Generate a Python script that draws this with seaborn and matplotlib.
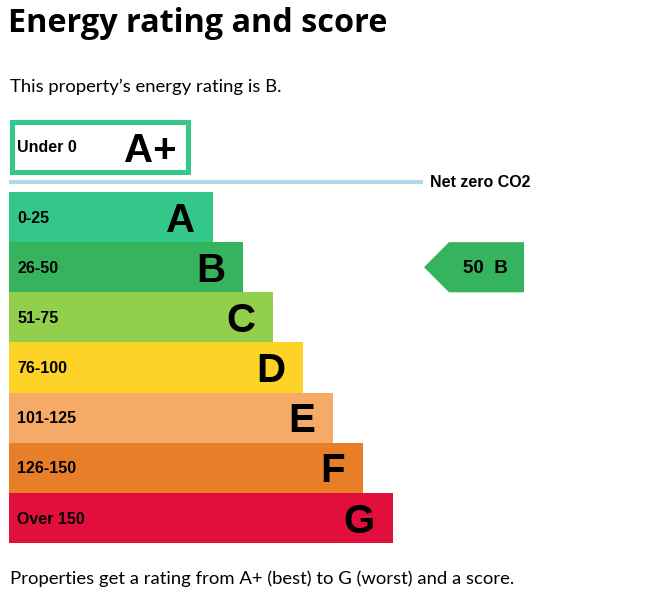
import matplotlib
matplotlib.use("Agg")
import matplotlib.pyplot as plt
from matplotlib.patches import Rectangle, Polygon
import seaborn as sns
import pandas as pd

# ---- data ----
bands = ["A", "B", "C", "D", "E", "F", "G"]
score_ranges = ["0-25", "26-50", "51-75", "76-100", "101-125", "126-150", "Over 150"]
bar_length = [204, 234, 264, 294, 324, 354, 384]
band_colors = ["#33c88a", "#35b35d", "#92cf4c", "#fcd326", "#f6aa68", "#e97e29", "#e20f3c"]
top_band = "A+"
top_range = "Under 0"
current_score = 50
current_band = "B"

title = "Energy rating and score"
subtitle = "This property\u2019s energy rating is B."
footer = "Properties get a rating from A+ (best) to G (worst) and a score."

LABEL_FONT = ["Liberation Sans", "DejaVu Sans"]
TEXT_FONT = ["Lato", "DejaVu Sans"]
TITLE_FONT = ["Open Sans", "DejaVu Sans"]
PX = 0.72  # points per pixel at dpi 100

df = pd.DataFrame({"band": bands, "length": bar_length, "range": score_ranges})

fig = plt.figure(figsize=(6.55, 6.05), dpi=100)

# overlay axes in pixel coordinates
ax = fig.add_axes([0, 0, 1, 1])
ax.set_xlim(0, 655)
ax.set_ylim(605, 0)
ax.axis("off")

ax.text(8, 32, title, fontsize=23.3, fontweight="bold", family=TITLE_FONT, va="baseline")
ax.text(10, 92, subtitle, fontsize=13.3, family=TEXT_FONT, va="baseline")
ax.text(10, 584, footer, fontsize=13.3, family=TEXT_FONT, va="baseline")

# A+ box
ax.add_patch(Rectangle((12, 121.5), 176, 50, facecolor="white",
                       edgecolor="#34c98b", lw=5 * PX))
ax.text(17, 152, top_range, fontsize=11.5, fontweight="bold", family=LABEL_FONT, va="baseline")
ax.text(177, 161.5, top_band, fontsize=29, fontweight="bold", family=LABEL_FONT,
        va="baseline", ha="right")

# net zero line
ax.plot([9, 423], [182, 182], color="#b1d8e6", lw=4 * PX, solid_capstyle="butt")
ax.text(430, 187, "Net zero CO2", fontsize=11.5, fontweight="bold", family=LABEL_FONT,
        va="baseline")

# ---- rating bars ----
bax = fig.add_axes([9 / 655, (605 - 543) / 605, 646 / 655, 351 / 605])
sns.barplot(data=df, x="length", y="band", hue="band", orient="h",
            palette=dict(zip(bands, band_colors)), width=1, saturation=1,
            linewidth=0, legend=False, ax=bax)
bax.set_xlim(0, 646)
bax.set_ylim(6.5, -0.5)
bax.axis("off")

for i, row in df.iterrows():
    bax.annotate(row["range"], xy=(8, i), xytext=(0, -5.7 * PX), textcoords="offset points",
                 fontsize=11.5, fontweight="bold", family=LABEL_FONT, va="baseline")
    bax.annotate(row["band"], xy=(row["length"] - 18, i), xytext=(0, -14.7 * PX),
                 textcoords="offset points", fontsize=29, fontweight="bold",
                 family=LABEL_FONT, va="baseline", ha="right")

# current rating arrow
idx = bands.index(current_band)
bax.add_patch(Polygon([(415, idx), (440, idx - 0.5), (515, idx - 0.5),
                       (515, idx + 0.5), (440, idx + 0.5)],
                      closed=True, facecolor=band_colors[idx], edgecolor="none"))
bax.annotate(f"{current_score}  {current_band}", xy=(476.5, idx), xytext=(0, -5.7 * PX),
             textcoords="offset points", fontsize=13.5, fontweight="bold",
             family=LABEL_FONT, va="baseline", ha="center")

fig.savefig("out.png", dpi=100)
